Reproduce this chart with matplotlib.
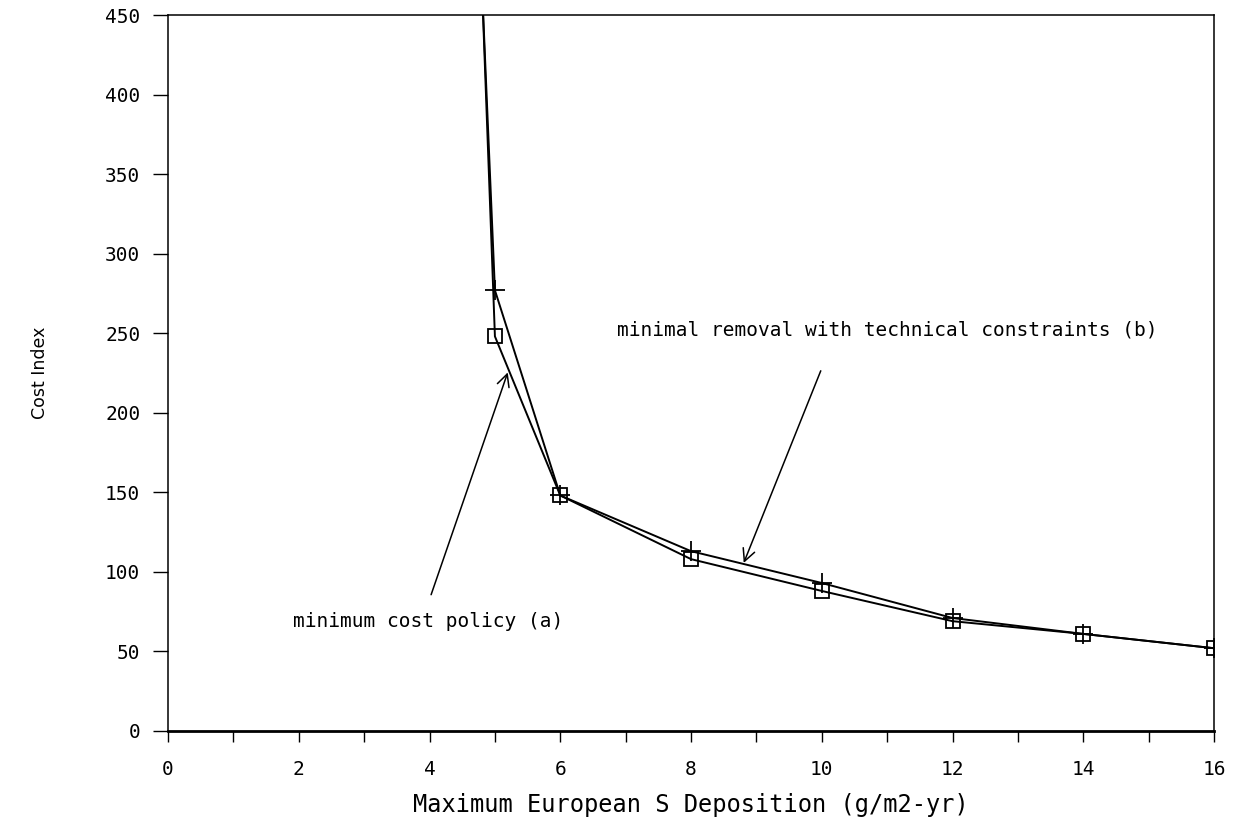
import numpy as np
import matplotlib
matplotlib.use("Agg")
import matplotlib.pyplot as plt
from matplotlib.ticker import MultipleLocator

# deposition limit (g/m2-yr) and cost index for the two policies
deposition = [4.8, 5, 6, 8, 10, 12, 14, 16]
cost_min = [470, 248, 148, 108, 88, 69, 61, 52]      # (a) minimum cost policy
cost_tech = [470, 277, 148, 113, 93, 71, 61, 52]     # (b) minimal removal w/ technical constraints

x_ticks = [0, 2, 4, 6, 8, 10, 12, 14, 16]
y_ticks = [0, 50, 100, 150, 200, 250, 300, 350, 400, 450]

# wide mono face is the closest thing to the old plotter lettering
plt.rcParams['font.family'] = ['DejaVu Sans Mono']

fig = plt.figure(figsize=(12.43, 8.35), dpi=100)
ax = fig.add_axes([0.1352, 0.1246, 0.8415, 0.8574])

ax.plot(deposition, cost_tech, '-', color='black', lw=1.4, marker='+', ms=14, mew=1.3,
        markevery=list(range(1, len(deposition))))
ax.plot(deposition, cost_min, '-', color='black', lw=1.4, marker='s', ms=9.5, mew=1.3,
        mfc='none', markevery=list(range(1, len(deposition))))

ax.set_xlim(0, 16)
ax.set_ylim(0, 450)
ax.set_xticks(x_ticks)
ax.set_yticks(y_ticks)
ax.xaxis.set_minor_locator(MultipleLocator(1))
ax.tick_params(axis='y', direction='out', length=11, width=1, labelsize=14, pad=9)
ax.tick_params(axis='x', which='both', direction='out', length=8, width=1, labelsize=14, pad=13)
for s in ax.spines.values():
    s.set_linewidth(1.1)
ax.spines['bottom'].set_linewidth(2)

ax.set_xlabel('Maximum European S Deposition (g/m2-yr)', fontsize=17, labelpad=10)
ax.set_ylabel('Cost Index', fontsize=12.5, family='DejaVu Sans', labelpad=40)

arrow = dict(arrowstyle='->', color='black', lw=1.1, mutation_scale=22)
ax.annotate('', xy=(5.21, 227), xytext=(4.01, 84), arrowprops=arrow)
ax.annotate('', xy=(8.79, 104), xytext=(10.0, 228), arrowprops=arrow)
ax.text(1.91, 68.6, 'minimum cost policy (a)', fontsize=14, va='center', ha='left')
ax.text(6.87, 252, 'minimal removal with technical constraints (b)', fontsize=14,
        va='center', ha='left')

fig.savefig('out.png', dpi=100)
